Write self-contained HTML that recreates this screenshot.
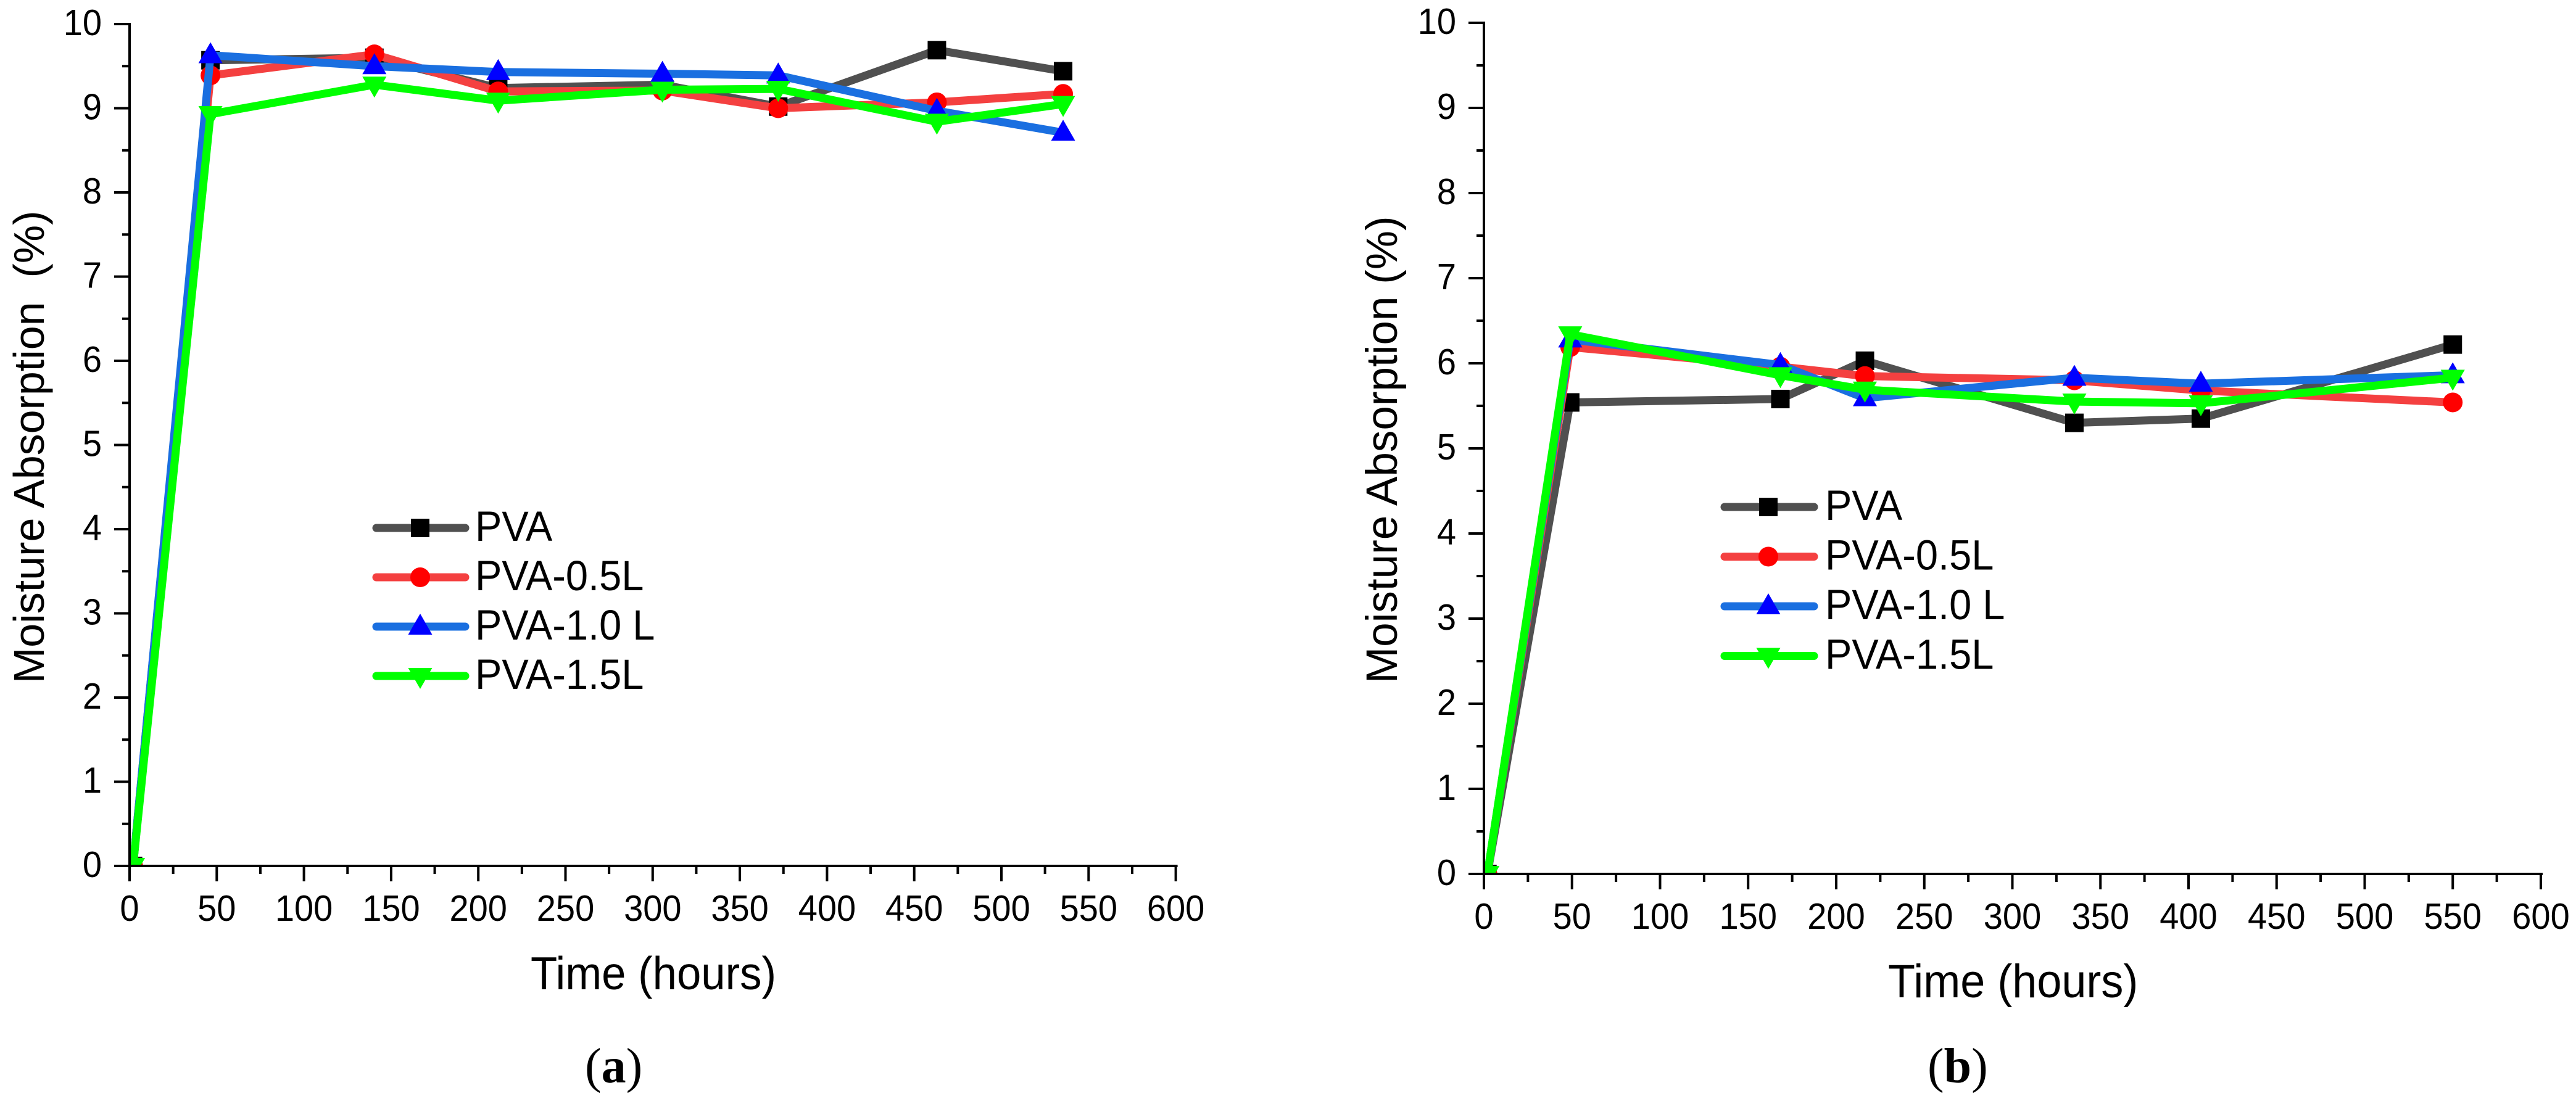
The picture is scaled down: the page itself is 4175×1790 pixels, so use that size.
<!DOCTYPE html>
<html lang="en">
<head>
<meta charset="utf-8">
<title>Moisture Absorption Charts</title>
<style>
html,body{margin:0;padding:0;background:#fff;}
body{width:4175px;height:1790px;overflow:hidden;}
svg{display:block;}
text{font-family:"Liberation Sans",sans-serif;fill:#000;}
.cap{font-family:"Liberation Serif",serif;}
</style>
</head>
<body>
<svg id="figure" xmlns="http://www.w3.org/2000/svg" width="4175" height="1790" viewBox="0 0 4175 1790">
  <rect width="4175" height="1790" fill="#fff"/>
  <defs>
    <clipPath id="clip-a"><rect x="210" y="0" width="1800" height="1404"/></clipPath>
    <clipPath id="clip-b"><rect x="2405" y="0" width="1770" height="1417"/></clipPath>
  </defs>
  <g id="panel-a"></g>
  <g id="panel-b"></g>

  <text transform="translate(71,1108) rotate(-90)" font-size="70" xml:space="preserve" style="white-space:pre">Moisture Absorption  (%)</text>
  <text transform="translate(860,1604) scale(1,1.06)" font-size="70.7">Time (hours)</text>
  <text transform="translate(2264,1108) rotate(-90)" font-size="71">Moisture Absorption (%)</text>
  <text transform="translate(3060,1617) scale(1,1.06)" font-size="72">Time (hours)</text>
  <text class="cap" x="948" y="1755" font-size="80">(<tspan font-weight="bold">a</tspan>)</text>
  <text class="cap" x="3124" y="1755" font-size="80">(<tspan font-weight="bold">b</tspan>)</text>
</svg>
<script>
// ---- chart data ----
const seriesNames = ["PVA", "PVA-0.5L", "PVA-1.0 L", "PVA-1.5L"];
const xTickLabels = [0, 50, 100, 150, 200, 250, 300, 350, 400, 450, 500, 550, 600];
const yTickLabels = [0, 1, 2, 3, 4, 5, 6, 7, 8, 9, 10];

const hoursA = [2, 46.4, 140.4, 211.4, 305.6, 372, 463, 535.4];
const pvaA   = [0, 9.57, 9.60, 9.24, 9.28, 9.02, 9.69, 9.44];
const pva05A = [0, 9.39, 9.64, 9.20, 9.21, 9.00, 9.07, 9.17];
const pva10A = [0, 9.63, 9.50, 9.43, 9.41, 9.39, 8.97, 8.71];
const pva15A = [0, 8.93, 9.28, 9.09, 9.22, 9.23, 8.84, 9.05];

const hoursB = [2, 49, 168.3, 216.3, 335.2, 407, 550];
const pvaB   = [0, 5.54, 5.58, 6.03, 5.30, 5.35, 6.22];
const pva05B = [0, 6.19, 5.96, 5.85, 5.80, 5.68, 5.54];
const pva10B = [0, 6.28, 5.98, 5.59, 5.83, 5.76, 5.86];
const pva15B = [0, 6.34, 5.86, 5.69, 5.55, 5.53, 5.83];

// ---- styling ----
const lineColors = ["#505050", "#f44040", "#1a6fe0", "#00ff00"];
const markerColors = ["#000000", "#ff0000", "#0000ff", "#00ff00"];
const markerKinds = ["square", "circle", "up", "down"];
const SVGNS = "http://www.w3.org/2000/svg";

function make(parent, tag, attrs) {
  const el = document.createElementNS(SVGNS, tag);
  for (const k in attrs) el.setAttribute(k, attrs[k]);
  parent.appendChild(el);
  return el;
}

function drawMarker(parent, kind, cx, cy, color) {
  let el;
  if (kind === "square") {
    el = make(parent, "rect", {x: cx - 15, y: cy - 15, width: 30, height: 30, fill: color});
  } else if (kind === "circle") {
    el = make(parent, "ellipse", {cx: cx, cy: cy, rx: 16, ry: 16, fill: color});
  } else if (kind === "up") {
    el = make(parent, "polygon", {points: cx + "," + (cy - 21) + " " + (cx + 19.5) + "," + (cy + 13) + " " + (cx - 19.5) + "," + (cy + 13), fill: color});
  } else {
    el = make(parent, "polygon", {points: cx + "," + (cy + 21) + " " + (cx + 19.5) + "," + (cy - 13) + " " + (cx - 19.5) + "," + (cy - 13), fill: color});
  }
  return el;
}

function drawPanel(cfg) {
  const root = document.getElementById(cfg.id);
  const xScale = function (h) { return cfg.x0 + h * cfg.pxPerHour; };
  const yScale = function (v) { return cfg.y0 - v * cfg.pxPerUnit; };

  // series
  const plot = make(root, "g", {"clip-path": "url(#" + cfg.clip + ")"});
  
  
  cfg.series.forEach(function (values, s) {
    const pts = values.map(function (v, i) { return xScale(cfg.hours[i]) + "," + yScale(v); }).join(" ");
    const line = make(plot, "polyline", {points: pts, fill: "none", stroke: lineColors[s], "stroke-width": 13, "stroke-linejoin": "miter"});
    
    
    values.forEach(function (v, i) {
      const m = drawMarker(plot, markerKinds[s], xScale(cfg.hours[i]), yScale(v), markerColors[s]);
      
      
    });
  });

  // axes
  const xEnd = xScale(600);
  const yTop = yScale(10);
  const xAxis = make(root, "line", {x1: cfg.x0 - 25, y1: cfg.y0, x2: xEnd + 3, y2: cfg.y0, stroke: "#000", "stroke-width": 4});
  
  
  const yAxis = make(root, "line", {x1: cfg.x0, y1: yTop - 2, x2: cfg.x0, y2: cfg.y0 + 25, stroke: "#000", "stroke-width": 4});
  
  

  xTickLabels.forEach(function (t, i) {
    const px = xScale(t);
    const tick = make(root, "line", {x1: px, y1: cfg.y0, x2: px, y2: cfg.y0 + 25, stroke: "#000", "stroke-width": 4});
    
    
    if (i < xTickLabels.length - 1) {
      const mx = xScale(t + 25);
      const minor = make(root, "line", {x1: mx, y1: cfg.y0, x2: mx, y2: cfg.y0 + 13, stroke: "#000", "stroke-width": 4});
      
      
    }
    const label = make(root, "text", {transform: "translate(" + px + "," + cfg.xLabelY + ") scale(1,1.06)", "text-anchor": "middle", "font-size": 56});
    label.textContent = t;
    
    
  });

  yTickLabels.forEach(function (t, i) {
    const py = yScale(t);
    const tick = make(root, "line", {x1: cfg.x0 - 25, y1: py, x2: cfg.x0, y2: py, stroke: "#000", "stroke-width": 4});
    
    
    if (i < yTickLabels.length - 1) {
      const my = yScale(t + 0.5);
      const minor = make(root, "line", {x1: cfg.x0 - 12, y1: my, x2: cfg.x0, y2: my, stroke: "#000", "stroke-width": 4});
      
      
    }
    const label = make(root, "text", {transform: "translate(" + cfg.yLabelX + "," + (py + 18) + ") scale(1,1.06)", "text-anchor": "end", "font-size": 56});
    label.textContent = t;
    
    
  });

  // legend
  const legend = make(root, "g", {});
  
  
  seriesNames.forEach(function (name, s) {
    const ly = cfg.legendY + s * cfg.legendStep;
    const entry = make(legend, "g", {});
    
    
    const swatch = make(entry, "line", {x1: cfg.legendX1 + 6, y1: ly, x2: cfg.legendX2 - 6, y2: ly, stroke: lineColors[s], "stroke-width": 13, "stroke-linecap": "round"});
    
    
    const mark = drawMarker(entry, markerKinds[s], cfg.legendMarkerX, ly, markerColors[s]);
    
    
    const label = make(entry, "text", {transform: "translate(" + cfg.legendTextX + "," + (ly + 21) + ") scale(1,1.06)", "font-size": 65});
    label.textContent = name;
    
    
  });
}

drawPanel({
  id: "panel-a", clip: "clip-a",
  hours: hoursA, series: [pvaA, pva05A, pva10A, pva15A],
  x0: 210, y0: 1404, pxPerHour: 2.826, pxPerUnit: 136.5,
  xLabelY: 1493, yLabelX: 165,
  legendX1: 604, legendX2: 760, legendMarkerX: 681, legendTextX: 770, legendY: 856, legendStep: 80
});
drawPanel({
  id: "panel-b", clip: "clip-b",
  hours: hoursB, series: [pvaB, pva05B, pva10B, pva15B],
  x0: 2405, y0: 1417, pxPerHour: 2.855, pxPerUnit: 138,
  xLabelY: 1506, yLabelX: 2360,
  legendX1: 2789, legendX2: 2946, legendMarkerX: 2866, legendTextX: 2958, legendY: 822, legendStep: 80.5
});
</script>
</body>
</html>
